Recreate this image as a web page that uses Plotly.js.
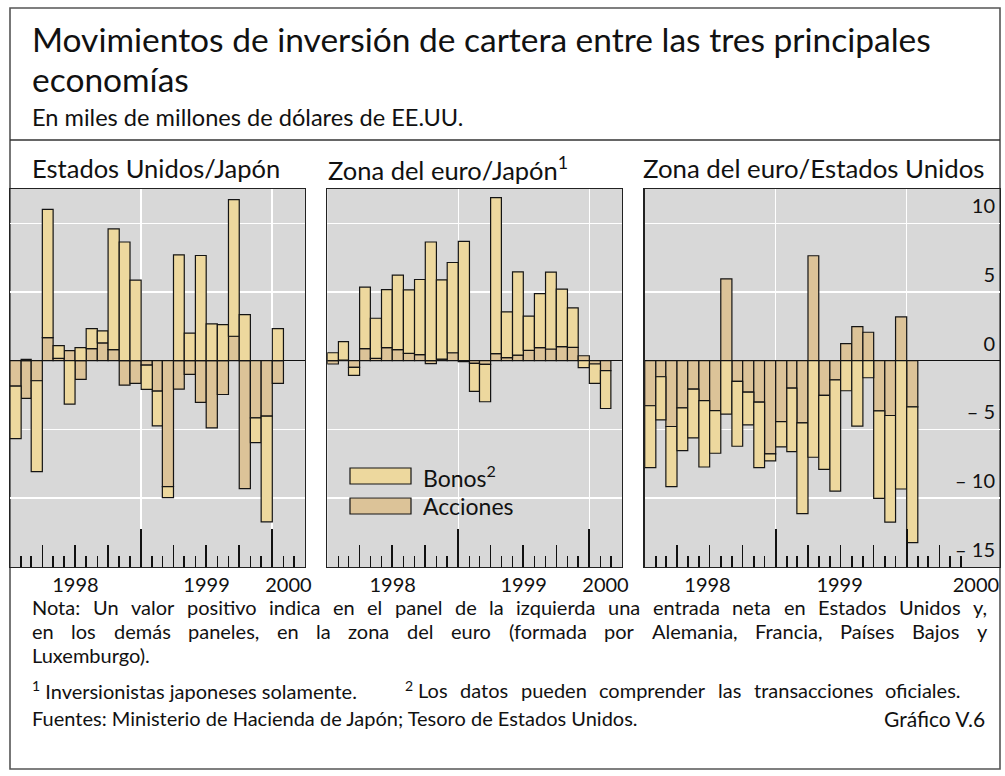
<!DOCTYPE html>
<html><head><meta charset="utf-8">
<script src="https://cdn.plot.ly/plotly-3.0.1.min.js"></script>
<style>html,body{margin:0;padding:0;background:#fff}</style>
</head><body><div id="chart" style="width:1005px;height:776px"></div>
<script>
// ---------- DATA ----------
const startMonth = '1998-01';
const countUsJp = 25;   // Jan 1998 - Jan 2000
const countEuJp = 26;   // Jan 1998 - Feb 2000
const countEuUs = 25;   // Jan 1998 - Jan 2000

const usjpAcciones = [-1.85, -2.75, -1.46, 1.68, 0.17, 0.73, -1.36, 0.88, 1.29, 0.80, -1.78, -1.65, -0.32, -2.21, -9.17, -2.07, -1.00, -3.04, -4.89, -2.46, 1.78, -9.32, -4.16, -4.04, -1.65];
const usjpBonos    = [-3.82, 0.10, -6.62, 9.34, 0.92, -3.16, 0.95, 1.46, 0.88, 8.79, 8.64, 5.86, -1.77, -2.53, -0.80, 7.71, 2.00, 7.66, 2.68, 2.63, 9.95, 3.36, -1.80, -7.69, 2.34];

const eujpAcciones = [-0.24, 0.05, -0.49, 0.88, 0.17, 0.95, 0.80, 0.54, 0.44, -0.22, 0.12, 0.58, -0.07, -0.19, -0.27, 0.51, 0.22, 0.41, 0.75, 0.95, 0.85, 1.02, 0.97, 0.36, -0.24, -0.73];
const eujpBonos    = [0.58, 1.34, -0.58, 4.47, 2.92, 4.23, 5.43, 4.62, 5.47, 8.64, 5.77, 6.57, 8.69, -2.05, -2.72, 11.36, 3.33, 6.06, 2.49, 3.94, 5.60, 4.19, 2.87, -0.51, -1.41, -2.75];

const euusAcciones = [-3.28, -1.17, -4.79, -3.43, -2.07, -2.90, -3.63, 5.96, -1.51, -2.29, -3.02, -6.79, -4.43, -2.00, -4.53, 7.64, -2.53, -1.39, 1.24, 2.48, 2.07, -3.65, -3.99, 3.19, -3.36];
const euusBonos    = [-4.51, -3.14, -4.38, -3.12, -3.55, -4.84, -3.11, -3.89, -4.72, -2.38, -4.77, -0.51, -1.85, -4.62, -6.61, -7.03, -5.38, -8.10, -2.19, -4.77, -1.24, -6.37, -7.76, -9.34, -9.88];

const yearLabels = ['1998', '1999', '2000'];
const yTickVals = [-15, -10, -5, 0, 5, 10];
const yTickText = ['\u2013 15', '\u2013 10', '\u2013 5', '0', '5', '10'];

const panelTitles = ['Estados Unidos/Japón', 'Zona del euro/Japón<sup>1</sup>', 'Zona del euro/Estados Unidos'];
const seriesNames = ['Acciones', 'Bonos'];

// ---------- HELPERS ----------
const W = 1005, H = 776;
const px = x => x / W;
const py = y => 1 - y / H;
const FONT = 'Lato, "Open Sans", sans-serif';
const colBonos = '#EDD89E';
const colAcciones = '#DCC398';
const lineCol = '#141414';

function monthList(start, n) {
  let [y, m] = start.split('-').map(Number);
  const out = [];
  for (let i = 0; i < n; i++) {
    out.push(y + '-' + String(m).padStart(2, '0'));
    m++; if (m > 12) { m = 1; y++; }
  }
  return out;
}
function fmt(ms) { return new Date(ms).toISOString().slice(0, 19).replace('T', ' '); }
function monthBounds(mstr) {
  const [y, m] = mstr.split('-').map(Number);
  return [Date.UTC(y, m - 1, 1), Date.UTC(y, m, 1)];
}
function mids(months) { return months.map(s => { const [a, b] = monthBounds(s); return fmt((a + b) / 2); }); }
function widths(months) { return months.map(s => { const [a, b] = monthBounds(s); return b - a; }); }
function firstOfMonths(months) { return months.map(s => s + '-01'); }

const mUsJp = monthList(startMonth, countUsJp);
const mEuJp = monthList(startMonth, countEuJp);
const mEuUs = monthList(startMonth, countEuUs);

// tick positions (axis furniture)
const tickMonths12 = monthList('1998-02', 26);   // Feb98..Mar00
const tickMonths3 = monthList('1998-02', 29);    // Feb98..Jun00
function quarterly(ms) { return ms.filter(s => [4, 7, 10, 1].includes(Number(s.split('-')[1]))); }
const yearTicks = ['1999-01-01', '2000-01-01'];

const panels = [
  { idx: 1, x0: 10, x1: 305, range: ['1998-01-01', '2000-04-01'], months: mUsJp, acc: usjpAcciones, bon: usjpBonos,
    ticks: tickMonths12, labelPos: ['1998-07-02', '1999-07-02', '2000-02-15'] },
  { idx: 2, x0: 327.3, x1: 622, range: ['1998-01-01', '2000-04-01'], months: mEuJp, acc: eujpAcciones, bon: eujpBonos,
    ticks: tickMonths12, labelPos: ['1998-07-02', '1999-07-02', '2000-02-15'] },
  { idx: 3, x0: 644.7, x1: 1000, range: ['1998-01-01', '2000-09-17'], months: mEuUs, acc: euusAcciones, bon: euusBonos,
    ticks: tickMonths3, labelPos: ['1998-06-25', '1999-06-28', '2000-07-12'] }
];

const yTop = 189, yBot = 567;
const yRange = [-15.02, 12.5];
const traces = [];
const layout = {
  width: W, height: H, autosize: false,
  margin: { l: 0, r: 0, t: 0, b: 0, pad: 0 },
  paper_bgcolor: '#ffffff', plot_bgcolor: '#d8d8d8',
  barmode: 'relative', showlegend: false,
  font: { family: FONT, color: '#111', size: 18 },
  shapes: [], annotations: []
};

panels.forEach(p => {
  const i = p.idx;
  const xm = 'x' + (i === 1 ? '' : i), xt = 'x' + (i + 3), xy = 'x' + (i + 6);
  const ym = 'y' + (i === 1 ? '' : i);
  const xs = mids(p.months), ws = widths(p.months);
  traces.push({ type: 'bar', name: seriesNames[0], x: xs, y: p.acc, width: ws, xaxis: xm, yaxis: ym,
    marker: { color: colAcciones, line: { color: lineCol, width: 1.2 } }, hoverinfo: 'skip' });
  traces.push({ type: 'bar', name: seriesNames[1], x: xs, y: p.bon, width: ws, xaxis: xm, yaxis: ym,
    marker: { color: colBonos, line: { color: lineCol, width: 1.2 } }, hoverinfo: 'skip' });
  // empty helper traces so the overlaid tick axes get drawn
  [xt, xy].forEach(ax => traces.push({ type: 'scatter', mode: 'lines', x: p.range, y: [null, null],
    xaxis: ax, yaxis: ym, hoverinfo: 'skip', showlegend: false }));

  const keyX = 'xaxis' + (i === 1 ? '' : i), keyY = 'yaxis' + (i === 1 ? '' : i);
  layout[keyX] = {
    domain: [px(p.x0), px(p.x1)], anchor: ym, type: 'date', range: p.range, fixedrange: true,
    tickmode: 'array', tickvals: p.labelPos, ticktext: yearLabels, ticks: '', showgrid: false, zeroline: false,
    showline: true, mirror: true, linecolor: '#222', linewidth: 1.3, ticklabeloverflow: 'allow',
    tickfont: { family: FONT, size: 20, color: '#111' }
  };
  layout['xaxis' + (i + 3)] = {
    overlaying: xm, anchor: ym, type: 'date', range: p.range, fixedrange: true,
    tickmode: 'array', tickvals: firstOfMonths(quarterly(p.ticks)), ticks: 'inside', ticklen: 22, tickwidth: 1.6, tickcolor: '#111',
    showticklabels: false, showgrid: false, zeroline: false, showline: false,
    minor: { tickmode: 'array', tickvals: firstOfMonths(p.ticks), ticks: 'inside', ticklen: 11, tickwidth: 1.6, tickcolor: '#111', showgrid: false }
  };
  layout['xaxis' + (i + 6)] = {
    overlaying: xm, anchor: ym, type: 'date', range: p.range, fixedrange: true,
    tickmode: 'array', tickvals: yearTicks, ticks: 'inside', ticklen: 38, tickwidth: 1.7, tickcolor: '#111',
    showticklabels: false, showgrid: true, gridcolor: '#ffffff', gridwidth: 1.6, zeroline: false, showline: false
  };
  layout[keyY] = {
    domain: [py(yBot), py(yTop)], anchor: xm, range: yRange, fixedrange: true,
    tickmode: 'array', tickvals: yTickVals, ticks: '', showticklabels: false,
    showgrid: true, gridcolor: '#ffffff', gridwidth: 1.6,
    zeroline: true, zerolinecolor: '#111', zerolinewidth: 1.3,
    showline: true, mirror: true, linecolor: '#222', linewidth: 1.3
  };
});

// value labels of the right-hand panel: a free overlaid y axis placed at the panel's right edge
traces.push({ type: 'scatter', mode: 'lines', x: panels[2].range, y: [null, null], xaxis: 'x3', yaxis: 'y4',
  hoverinfo: 'skip', showlegend: false });
layout.yaxis4 = {
  overlaying: 'y3', anchor: 'free', position: px(1000), side: 'left', range: yRange, fixedrange: true,
  tickmode: 'array', tickvals: yTickVals, ticktext: yTickText, ticks: '',
  ticklabelshift: -17, ticklabelstandoff: 5,
  showgrid: false, zeroline: false, showline: false,
  tickfont: { family: FONT, size: 20, color: '#111' }
};

// ---------- FRAME ----------
layout.shapes.push({ type: 'rect', xref: 'paper', yref: 'paper', x0: px(10), x1: px(1000), y0: py(769), y1: py(8),
  line: { color: '#555', width: 1.6 }, fillcolor: 'rgba(0,0,0,0)', layer: 'below' });
layout.shapes.push({ type: 'line', xref: 'paper', yref: 'paper', x0: px(10), x1: px(1000), y0: py(140), y1: py(140),
  line: { color: '#333', width: 1.3 } });

// legend (drawn manually in panel 2)
layout.shapes.push({ type: 'rect', xref: 'paper', yref: 'paper', x0: px(350), x1: px(411), y0: py(484), y1: py(468),
  fillcolor: colBonos, line: { color: lineCol, width: 1.2 } });
layout.shapes.push({ type: 'rect', xref: 'paper', yref: 'paper', x0: px(350), x1: px(411), y0: py(514), y1: py(498),
  fillcolor: colAcciones, line: { color: lineCol, width: 1.2 } });

function ann(text, x, y, size, anchor, extra) {
  layout.annotations.push(Object.assign({ text, xref: 'paper', yref: 'paper', x: px(x), y: py(y),
    xanchor: anchor || 'left', yanchor: 'middle', showarrow: false,
    font: { family: FONT, size: size, color: '#111' } }, extra || {}));
}

ann('Bonos<sup>2</sup>', 421, 476, 23);
ann(seriesNames[0], 421, 506, 23);

// titles
ann('Movimientos de inversión de cartera entre las tres principales', 30, 39, 33.5);
ann('economías', 30, 79, 33.5);
ann('En miles de millones de dólares de EE.UU.', 30, 117, 23.6);
ann(panelTitles[0], 30, 168, 25.5);
ann(panelTitles[1], 326, 168, 25.5);
ann(panelTitles[2], 641, 168, 25.8);

// notes (justified lines)
const NOTE_SIZE = 20;
const cv = document.createElement('canvas').getContext('2d');
cv.font = NOTE_SIZE + 'px Lato';
function justify(line, left, right, y) {
  const words = line.split(' ');
  const wsz = words.map(w => cv.measureText(w).width);
  const total = wsz.reduce((a, b) => a + b, 0);
  const gap = (right - left - total) / (words.length - 1);
  let x = left;
  words.forEach((w, k) => { ann(w, x, y, NOTE_SIZE, 'left', { borderpad: 0 }); x += wsz[k] + gap; });
}
justify('Nota: Un valor positivo indica en el panel de la izquierda una entrada neta en Estados Unidos y,', 31, 986, 607);
justify('en los demás paneles, en la zona del euro (formada por Alemania, Francia, Países Bajos y', 31, 986, 631);
ann('Luxemburgo).', 31, 655, NOTE_SIZE, 'left', { borderpad: 0 });
ann('<sup>1</sup> Inversionistas japoneses solamente.', 31, 690, NOTE_SIZE, 'left', { borderpad: 0 });
ann('<sup>2</sup>', 404, 685, NOTE_SIZE, 'left', { borderpad: 0 });
justify('Los datos pueden comprender las transacciones oficiales.', 417, 960, 690);
ann('Fuentes: Ministerio de Hacienda de Japón; Tesoro de Estados Unidos.', 31, 718, NOTE_SIZE, 'left', { borderpad: 0 });
ann('Gráfico V.6', 986, 718, 21, 'right', { borderpad: 0 });

Plotly.newPlot('chart', traces, layout, { staticPlot: true, displayModeBar: false });
</script>
</body></html>
